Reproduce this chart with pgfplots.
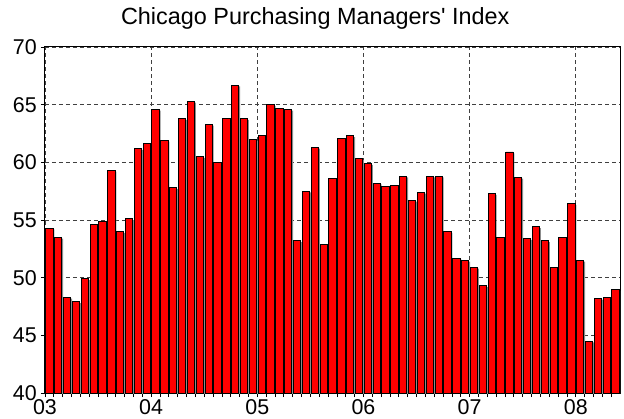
\documentclass[border=0pt]{standalone}
\usepackage{fontspec}
\setmainfont{Liberation Sans}
\usepackage{pgfplots}
\pgfplotsset{compat=1.18}
\begin{document}
\begin{tikzpicture}
\useasboundingbox (-45bp,-26bp) rectangle (579bp,393bp);
\begin{axis}[
  at={(0,0)}, anchor=south west,
  scale only axis, width=575bp, height=346bp,
  xmin=0, xmax=65, ymin=40, ymax=70,
  xtick={0,12,24,36,48,60}, xticklabels={03,04,05,06,07,08},
  minor xtick={1,2,3,4,5,6,7,8,9,10,11,13,14,15,16,17,18,19,20,21,22,23,25,26,27,28,29,30,31,32,33,34,35,37,38,39,40,41,42,43,44,45,46,47,49,50,51,52,53,54,55,56,57,58,59,61,62,63,64},
  ytick={40,45,50,55,60,65,70},
  tick align=outside, tick pos=left,
  major tick length=4bp, minor tick length=4bp,
  tick style={black, line width=0.8bp},
  grid=major,
  major grid style={black!75, line width=0.8bp, dash pattern=on 4bp off 3bp},
  axis line style={black, line width=1bp},
  /pgf/number format/assume math mode=true,
  ticklabel style={font=\fontsize{21.5}{22}\selectfont, inner sep=0pt},
  yticklabel style={anchor=east, xshift=-4bp},
  xticklabel style={anchor=north, yshift=-2.5bp},
  title={Chicago Purchasing Managers\textquotesingle\ Index},
  title style={font=\fontsize{23.5}{24}\selectfont, at={(0.47,1)}, anchor=base, yshift=17bp, inner sep=0pt},
  ybar, bar width=7.3bp,
]
\pgfplotstableread{
x y
0.5 54.3
1.5 53.5
2.5 48.3
3.5 47.9
4.5 49.9
5.5 54.6
6.5 54.9
7.5 59.3
8.5 54.0
9.5 55.1
10.5 61.2
11.5 61.6
12.5 64.6
13.5 61.9
14.5 57.8
15.5 63.8
16.5 65.3
17.5 60.5
18.5 63.3
19.5 60.0
20.5 63.8
21.5 66.7
22.5 63.8
23.5 62.0
24.5 62.3
25.5 65.0
26.5 64.7
27.5 64.6
28.5 53.2
29.5 57.5
30.5 61.3
31.5 52.9
32.5 58.6
33.5 62.1
34.5 62.3
35.5 60.3
36.5 59.9
37.5 58.2
38.5 57.9
39.5 58.0
40.5 58.8
41.5 56.7
42.5 57.4
43.5 58.8
44.5 58.8
45.5 54.0
46.5 51.7
47.5 51.5
48.5 50.9
49.5 49.3
50.5 57.3
51.5 53.5
52.5 60.9
53.5 58.7
54.5 53.4
55.5 54.4
56.5 53.2
57.5 50.9
58.5 53.5
59.5 56.4
60.5 51.5
61.5 44.5
62.5 48.2
63.5 48.3
64.5 49.0
}\pmidata
\addplot[bar shift=0pt, fill=black!45, draw=none, xshift=1.3bp, yshift=-1.3bp, forget plot] table {\pmidata};
\addplot[bar shift=0pt, fill=red, draw=black, line width=0.9bp] table {\pmidata};
\end{axis}
\end{tikzpicture}
\end{document}
